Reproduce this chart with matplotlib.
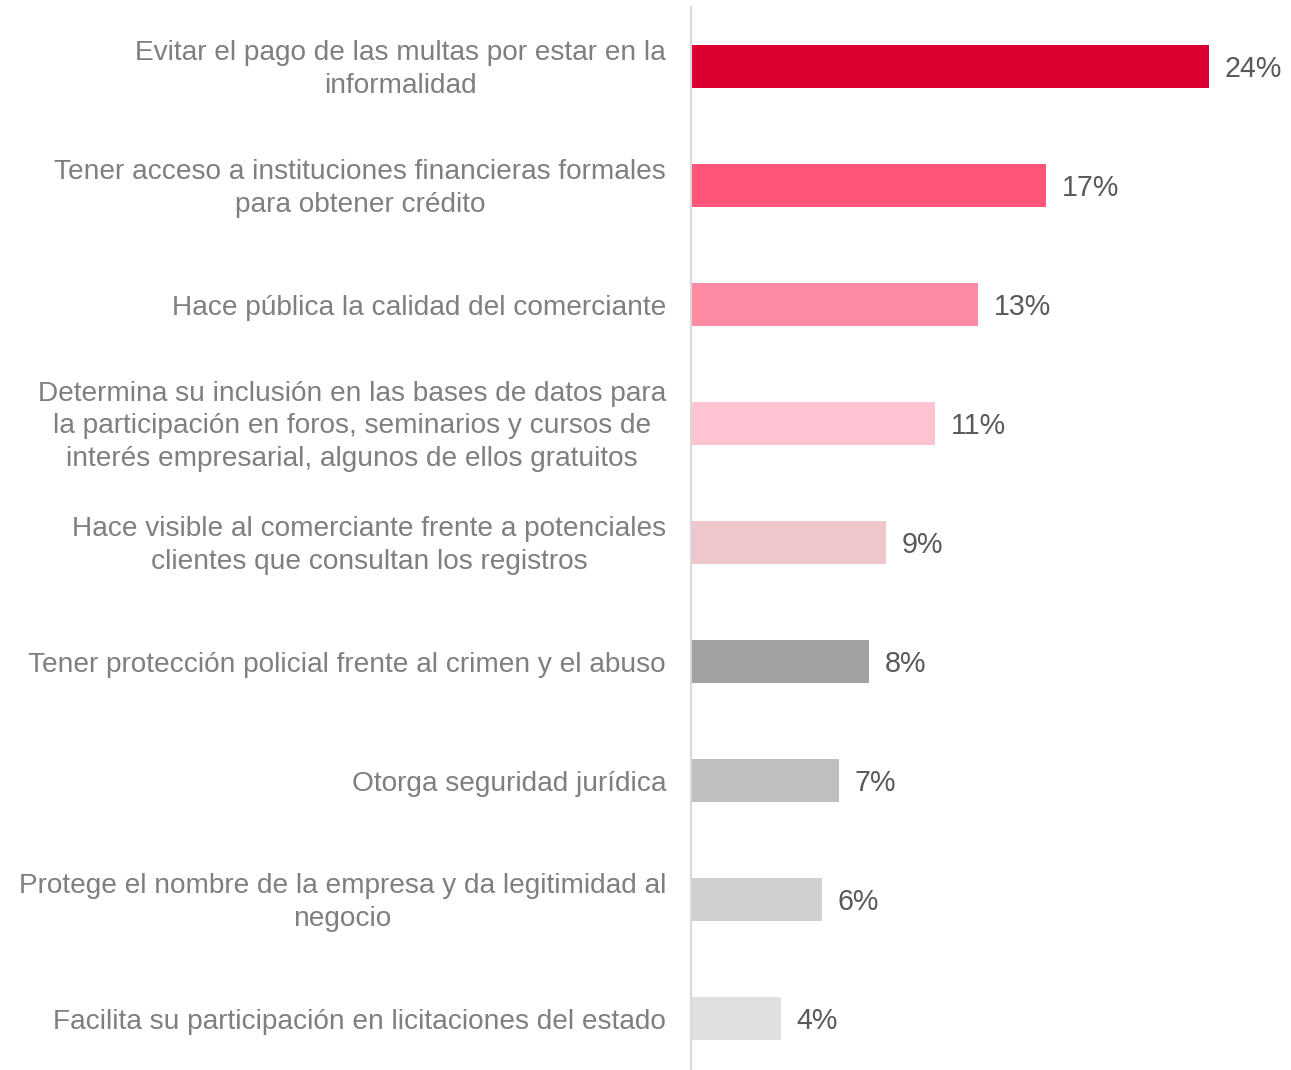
import matplotlib
matplotlib.use("Agg")
import matplotlib.pyplot as plt
from matplotlib.transforms import ScaledTranslation

plt.rcParams['font.family'] = ['Liberation Sans', 'DejaVu Sans']

categories = [
    "Evitar el pago de las multas por estar en la\ninformalidad",
    "Tener acceso a instituciones financieras formales\npara obtener crédito",
    "Hace pública la calidad del comerciante",
    "Determina su inclusión en las bases de datos para\nla participación en foros, seminarios y cursos de\ninterés empresarial, algunos de ellos gratuitos",
    "Hace visible al comerciante frente a potenciales\nclientes que consultan los registros",
    "Tener protección policial frente al crimen y el abuso",
    "Otorga seguridad jurídica",
    "Protege el nombre de la empresa y da legitimidad al\nnegocio",
    "Facilita su participación en licitaciones del estado",
]
values = [24.2, 16.6, 13.4, 11.4, 9.1, 8.3, 6.9, 6.1, 4.2]
labels = ["24%", "17%", "13%", "11%", "9%", "8%", "7%", "6%", "4%"]
colors = ["#DC0032", "#FF557A", "#FF8AA3", "#FFC3D1", "#EFC6CC",
          "#A2A2A2", "#BFBFBF", "#D0D0D0", "#E0E0E0"]

W, H = 1291, 1070
fig = plt.figure(figsize=(W / 100, H / 100), dpi=100)
ax = fig.add_axes([691 / W, 0, 600 / W, 1 - 7 / H])

y = list(range(len(categories)))
ax.barh(y, values, height=0.36, color=colors)
ax.set_xlim(0, 600 / 21.4)
ax.set_ylim(8.43, -0.5)

for yi, v, lab in zip(y, values, labels):
    ax.annotate(lab, (v, yi), xytext=(11.5, -1.5), textcoords='offset points',
                ha='left', va='center', fontsize=20.6, color='#595959')

ax.set_yticks(y)
ax.set_yticklabels(categories, fontsize=20.15, color='#7F7F7F',
                   multialignment='center', linespacing=1.33)
ax.tick_params(axis='y', length=0, pad=18)
for t in ax.get_yticklabels():
    if "\n" in t.get_text():
        t.set_transform(t.get_transform() +
                        ScaledTranslation(0, 3.5 / 100, fig.dpi_scale_trans))
ax.set_xticks([])
for s in ['top', 'right', 'bottom']:
    ax.spines[s].set_visible(False)
ax.spines['left'].set_color('#D9D9D9')
ax.spines['left'].set_linewidth(1.5)

fig.savefig("out.png", dpi=100, facecolor='white')
